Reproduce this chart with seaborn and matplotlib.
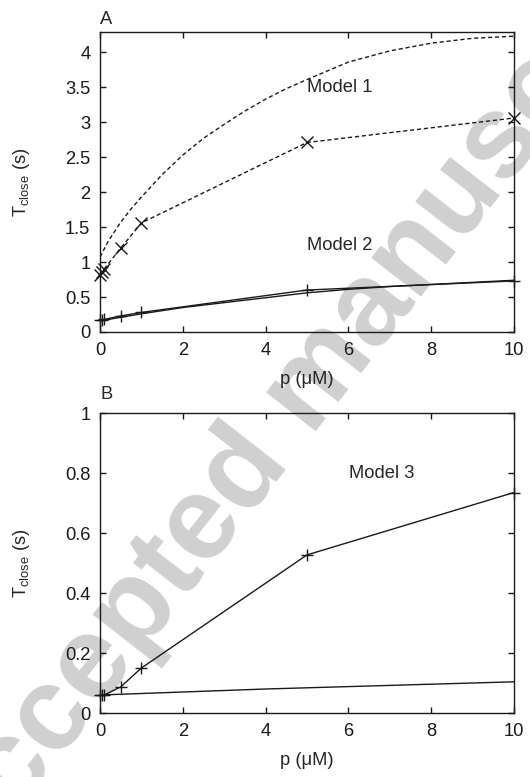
import matplotlib
matplotlib.use("Agg")
import matplotlib.pyplot as plt
import seaborn as sns

# simulation points (markers) share the same p values
p_sim = [0, 0.05, 0.1, 0.5, 1, 5, 10]

# panel A, model 1
m1_sim = [0.82, 0.86, 0.90, 1.20, 1.56, 2.71, 3.06]
m1_curve_p = [0, 0.2, 0.5, 0.75, 1.0, 1.5, 2.0, 2.5, 3.0, 3.5, 4.0, 4.5, 5, 6, 7, 8, 9, 10]
m1_curve = [1.07, 1.30, 1.57, 1.76, 1.93, 2.25, 2.53, 2.77, 2.97, 3.16, 3.33, 3.48,
            3.61, 3.86, 4.02, 4.13, 4.20, 4.23]

# panel A, model 2
m2_sim = [0.17, 0.17, 0.18, 0.23, 0.28, 0.60, 0.73]
m2_curve_p = [0, 1, 2, 3, 4, 5, 6, 7, 8, 9, 10]
m2_curve = [0.16, 0.26, 0.35, 0.42, 0.49, 0.56, 0.61, 0.65, 0.68, 0.71, 0.74]

# panel B, model 3
m3_sim = [0.06, 0.06, 0.06, 0.087, 0.15, 0.527, 0.735]
m3_curve_p = [0, 2, 4, 6, 8, 10]
m3_curve = [0.06, 0.07, 0.08, 0.088, 0.096, 0.104]

sns.set_theme(style="ticks")
plt.rcParams['font.family'] = ['Liberation Sans', 'DejaVu Sans']
plt.rcParams['mathtext.fontset'] = 'custom'
plt.rcParams['mathtext.rm'] = 'Liberation Sans'
plt.rcParams['mathtext.it'] = 'Liberation Sans:italic'

FS = 13.2
W, H = 530, 777
fig = plt.figure(figsize=(W / 100, H / 100), dpi=100)

def px_axes(left, top, right, bottom):
    return fig.add_axes([left / W, 1 - bottom / H, (right - left) / W, (bottom - top) / H])

axA = px_axes(100, 32, 514, 332)
axB = px_axes(100, 413, 514, 713)

dash = (0, (3, 2))
mk = dict(color='k', markersize=9, markeredgecolor='k', markeredgewidth=1, lw=1, clip_on=False)

# panel A
sns.lineplot(x=m1_curve_p, y=m1_curve, ax=axA, color='k', lw=1, linestyle=dash)
sns.lineplot(x=p_sim, y=m1_sim, ax=axA, marker='x', linestyle=dash, **mk)
sns.lineplot(x=m2_curve_p, y=m2_curve, ax=axA, color='k', lw=1)
sns.lineplot(x=p_sim, y=m2_sim, ax=axA, marker='+', **mk)
axA.text(5.78, 3.49, "Model 1", fontsize=FS, ha='center', va='center')
axA.text(5.78, 1.24, "Model 2", fontsize=FS, ha='center', va='center')
axA.set_ylim(0, 4.29)
axA.set_yticks([0, 0.5, 1, 1.5, 2, 2.5, 3, 3.5, 4])
axA.set_yticklabels(["0", "0.5", "1", "1.5", "2", "2.5", "3", "3.5", "4"])

# panel B
sns.lineplot(x=m3_curve_p, y=m3_curve, ax=axB, color='k', lw=1)
sns.lineplot(x=p_sim, y=m3_sim, ax=axB, marker='+', **mk)
axB.text(6.8, 0.8, "Model 3", fontsize=FS, ha='center', va='center')
axB.set_ylim(0, 1)
axB.set_yticks([0, 0.2, 0.4, 0.6, 0.8, 1])
axB.set_yticklabels(["0", "0.2", "0.4", "0.6", "0.8", "1"])

for ax, tag, gap in [(axA, "A", 4), (axB, "B", 10)]:
    ax.set_facecolor('none')
    ax.set_xlim(0, 10)
    ax.set_xticks([0, 2, 4, 6, 8, 10])
    ax.set_xticklabels(["0", "2", "4", "6", "8", "10"])
    for s in ax.spines.values():
        s.set_visible(True)
        s.set_linewidth(1)
        s.set_color('k')
    ax.tick_params(direction='in', length=4, width=1, top=True, right=True,
                   labelsize=FS, pad=7, colors='k')
    ax.set_xlabel("p (\u03bcM)", fontsize=FS)
    ax.set_ylabel(r"T$_{\mathrm{close}}$ (s)", fontsize=FS)
    ax.xaxis.set_label_coords(0.5, -0.13)
    ax.yaxis.set_label_coords(-0.164, 0.5)
    ax.text(0, 1 + gap / 300, tag, transform=ax.transAxes, fontsize=FS,
            ha='left', va='bottom')

# watermark
fig.text(310 / W, 1 - 390 / H, "Accepted manuscript", fontsize=85, fontweight='bold',
         color='#d0d0d0', rotation=52, ha='center', va='center',
         rotation_mode='anchor', zorder=-1)

fig.savefig("out.png", dpi=100)
